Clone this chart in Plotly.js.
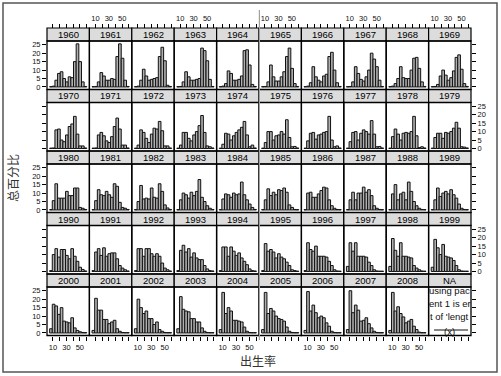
<!DOCTYPE html>
<html><head><meta charset="utf-8">
<script src="https://cdn.plot.ly/plotly-3.0.1.min.js"></script>
<style>html,body{margin:0;padding:0;background:#fff}</style>
</head><body><div id="chart" style="width:501px;height:376px"></div>
<script>
// ---- data ----
const breaks = [5.0, 8.95, 12.9, 16.85, 20.8, 24.75, 28.7, 32.65, 36.6, 40.55, 44.5, 48.45, 52.4, 56.35, 60.3];
const panelLabels = ['1960','1961','1962','1963','1964','1965','1966','1967','1968','1969',
  '1970','1971','1972','1973','1974','1975','1976','1977','1978','1979',
  '1980','1981','1982','1983','1984','1985','1986','1987','1988','1989',
  '1990','1991','1992','1993','1994','1995','1996','1997','1998','1999',
  '2000','2001','2002','2003','2004','2005','2006','2007','2008','NA'];
const y1960 = [0.2, 0.5, 4, 8, 9, 5, 3, 6, 5.5, 15, 25.5, 15, 3, 0.3];
const y1961 = [0.2, 0.3, 3, 8.5, 6.5, 4, 4, 5, 4.5, 18, 25.5, 17, 4, 0.3];
const y1962 = [0.2, 0.5, 4, 10.5, 6.5, 4, 4.5, 5, 5.5, 18, 23.5, 15.5, 1, 0.3];
const y1963 = [0.2, 0.3, 3, 9, 6, 4, 4, 4.5, 5, 23, 21.5, 15.5, 4.5, 0.3];
const y1964 = [0.2, 0.5, 2, 9.5, 8, 4, 4, 4.5, 6.5, 21.5, 22, 13, 1.5, 0.3];
const y1965 = [0.2, 0.3, 3, 13, 6, 3.5, 3.5, 6, 9, 18, 23, 11, 2, 0.3];
const y1966 = [0.2, 0.5, 2.5, 12, 6, 4, 3, 6.5, 7.5, 18, 20.5, 10, 2.5, 0.3];
const y1967 = [0.2, 0.3, 3, 12, 8, 4.5, 3.5, 6, 10, 20, 16.5, 12, 4, 0.3];
const y1968 = [0.2, 0.5, 2, 5, 12, 5.5, 5, 5, 10, 17, 17.5, 11, 3, 0.3];
const y1969 = [0.2, 0.3, 1.5, 6.5, 10, 7, 4, 5.5, 9.5, 17.5, 19, 10.5, 2, 0.3];
const y1970 = [0.2, 0.3, 11, 11.5, 5, 4, 8, 13, 14.5, 19, 8.5, 1.5, 1.5, 0.3];
const y1971 = [0.2, 0.3, 8, 9.5, 7.5, 4.5, 3.5, 7, 13, 18, 11.5, 2, 2, 0.3];
const y1972 = [0.2, 2, 11, 9.5, 6, 3.5, 8.5, 12, 11.5, 16, 10.5, 1.5, 1.5, 0.3];
const y1973 = [0.2, 2, 9.5, 9.5, 6, 4.5, 8, 10, 13.5, 19.5, 9.5, 1.5, 1, 0.3];
const y1974 = [0.2, 2.5, 9, 8.5, 5, 7.5, 9.5, 11, 12.5, 16, 8, 1, 2, 0.3];
const y1975 = [0.2, 3.5, 10, 10, 5, 7.5, 8, 10, 8.5, 17, 6.5, 1, 1.2, 0.3];
const y1976 = [0.2, 4.5, 9, 9.5, 5.5, 8, 8.5, 9.5, 10, 19, 5, 1, 1.5, 0.3];
const y1977 = [0.2, 4, 9.5, 10, 5, 9, 11, 10, 8.5, 16.5, 8.5, 1, 1.2, 0.3];
const y1978 = [0.2, 7, 11.5, 8.5, 5, 9, 9.5, 9, 10, 19, 7.5, 0.5, 1, 0.3];
const y1979 = [0.2, 6.5, 9, 9, 6, 9.5, 9, 10, 12, 15.5, 12, 1, 0.8, 0.3];
const y1980 = [0.2, 5.5, 15.5, 7, 7, 7, 11, 8.5, 8.5, 13, 13, 1.5, 1, 0.3];
const y1981 = [0.2, 5.5, 12, 9, 8.5, 11, 9, 7.5, 15.5, 14, 4.5, 1.5, 1, 0.3];
const y1982 = [0.2, 5, 14.5, 6.5, 7, 6.5, 13, 7.5, 7, 15.5, 11, 3, 1.2, 0.3];
const y1983 = [0.2, 6, 10, 9, 7, 10.5, 8.5, 11, 18, 7.5, 5, 2.5, 1, 0.3];
const y1984 = [0.2, 6.5, 9.5, 9, 7.5, 10, 9, 9.5, 16.5, 9, 6, 3.5, 1.5, 0.3];
const y1985 = [0.2, 6, 12.5, 8.5, 10.5, 9, 12, 11.5, 13, 10.5, 3, 1.5, 0.3, 0.2];
const y1986 = [0.2, 10, 10.5, 7.5, 7.5, 9.5, 11.5, 13.5, 13, 6, 2.5, 1, 0.3, 0.2];
const y1987 = [0.2, 6, 10.5, 6, 10, 10, 13.5, 10.5, 12, 8.5, 2.5, 1, 0.3, 0.2];
const y1988 = [0.2, 9.5, 15, 6, 9.5, 10.5, 6, 16.5, 11, 5, 2.5, 1, 0.3, 0.2];
const y1989 = [0.2, 6, 13, 8, 10, 11, 9.5, 12, 9, 7, 3.5, 1, 0.3, 0.2];
const y1990 = [0.5, 10, 13.5, 8.5, 13, 13, 9.5, 7.5, 13.5, 9, 6, 2.5, 1.2, 0.3];
const y1991 = [0.5, 11.5, 13.5, 9.5, 14, 9, 10.5, 11, 11, 7.5, 3.5, 2, 1, 0.3];
const y1992 = [0.5, 13.5, 13.5, 9, 13.5, 13.5, 10.5, 9, 10.5, 9, 5, 2, 1, 0.3];
const y1993 = [0.5, 12.5, 15.5, 11.5, 13.5, 8.5, 11, 8, 7, 7, 3.5, 1.5, 0.5, 0.3];
const y1994 = [0.5, 14.5, 14.5, 9, 14.5, 12, 9.5, 11, 8, 6, 4, 1.5, 0.5, 0.3];
const y1995 = [0.5, 16.5, 12, 13, 11.5, 8, 10.5, 8.5, 7.5, 5.5, 3.5, 1, 0.5, 0.2];
const y1996 = [0.5, 17, 13, 12, 15, 9, 9, 9, 8.5, 6, 3.5, 1, 0.3, 0.2];
const y1997 = [3, 17, 12, 17, 9, 9, 9, 8.5, 5.5, 3.5, 1, 0.3, 0.2, 0.2];
const y1998 = [3, 19.5, 12.5, 9, 17, 9, 9, 8.5, 8, 3.5, 2, 1, 0.3, 0.2];
const y1999 = [2.5, 19, 14, 10, 16, 9, 8.5, 8, 6.5, 3.5, 1, 0.3, 0.2, 0.2];
const y2000 = [2.5, 17, 16, 11, 15, 7, 6.5, 6, 9, 3, 1.5, 0.7, 0.3, 0.2];
const y2001 = [1.5, 20.5, 13.5, 13.5, 8, 8, 5.5, 6.5, 7.5, 2.5, 1, 0.3, 0.2, 0.2];
const y2002 = [2.5, 20, 15, 11.5, 13, 8.5, 8.5, 5, 6.5, 2, 1, 0.3, 0.2, 0.2];
const y2003 = [2.5, 21.5, 14, 13, 12.5, 8.5, 8.5, 6.5, 6.5, 3, 1, 0.3, 0.2, 0.2];
const y2004 = [2, 24, 11.5, 15, 13, 7.5, 7.5, 7, 6.5, 3.5, 1, 0.3, 0.2, 0.2];
const y2005 = [2, 24, 11.5, 14.5, 13, 10, 8.5, 8, 7, 3.5, 1, 0.3, 0.2, 0.2];
const y2006 = [1.5, 24.5, 13, 16.5, 12, 9, 10, 9, 6, 4, 1, 0.3, 0.2, 0.2];
const y2007 = [2, 25, 12, 16.5, 13.5, 7, 7.5, 9, 5.5, 3, 1, 0.3, 0.2, 0.2];
const y2008 = [1.5, 24, 13, 15.5, 11.5, 9.5, 6, 7, 8, 4, 2, 0.5, 0.2, 0.2];
const percentByPanel = [
  y1960,y1961,y1962,y1963,y1964,y1965,y1966,y1967,y1968,y1969,
  y1970,y1971,y1972,y1973,y1974,y1975,y1976,y1977,y1978,y1979,
  y1980,y1981,y1982,y1983,y1984,y1985,y1986,y1987,y1988,y1989,
  y1990,y1991,y1992,y1993,y1994,y1995,y1996,y1997,y1998,y1999,
  y2000,y2001,y2002,y2003,y2004,y2005,y2006,y2007,y2008,null];
const xTickVals = [10, 20, 30, 40, 50, 60];
const xTickText = ['10', '', '30', '', '50', ''];
const yTickVals = [0, 5, 10, 15, 20, 25];
const yTickText = ['0', '5', '10', '15', '20', '25'];
const naTextLines = ['using pac', 'ent 1 is er', "t of 'lengt", '(x)'];
const yTitle = '总百分比';
const xTitle = '出生率';

// ---- layout geometry (pixels) ----
const W = 501, H = 376;
const colLeft = 47, colW = 42.4, rowTop = 28, rowPitch = 61.5, stripH = 13;
const fx = p => p / W;
const fy = p => 1 - p / H;
const FONT = 'Liberation Sans, Arial, sans-serif';

const centers = [], widths = [];
for (let i = 0; i < breaks.length - 1; i++) {
  centers.push((breaks[i] + breaks[i + 1]) / 2);
  widths.push(breaks[i + 1] - breaks[i]);
}

const data = [];
const layout = {
  width: W, height: H, margin: {l: 0, r: 0, t: 0, b: 0},
  paper_bgcolor: '#fff', plot_bgcolor: 'rgba(0,0,0,0)',
  showlegend: false, bargap: 0,
  font: {family: FONT, color: '#000'},
  shapes: [], annotations: []
};

for (let k = 0; k < panelLabels.length; k++) {
  const r = Math.floor(k / 10), c = k % 10, n = k + 1;
  const sTop = rowTop + r * rowPitch;
  const pTop = sTop + stripH, pBot = sTop + rowPitch;
  const left = colLeft + c * colW, right = left + colW;
  const xa = {
    domain: [fx(left), fx(right)], range: [1.1, 64.2],
    tickvals: xTickVals, ticktext: xTickText,
    showgrid: false, zeroline: false, showline: false,
    ticks: 'outside', ticklen: 4, tickwidth: 1, tickcolor: '#000',
    tickfont: {size: 7.5, family: FONT, color: '#111'}, fixedrange: true
  };
  if (r === 0) {
    Object.assign(xa, {side: 'top', anchor: 'free', position: fy(sTop), showticklabels: c % 2 === 1});
  } else if (r === 4) {
    Object.assign(xa, {side: 'bottom', anchor: 'y' + n, showticklabels: c % 2 === 0});
  } else {
    Object.assign(xa, {visible: false, anchor: 'y' + n});
  }
  const ya = {
    domain: [fy(pBot), fy(pTop)], range: [-1.5, 27.2],
    tickvals: yTickVals, ticktext: yTickText,
    showgrid: false, zeroline: false, showline: false,
    ticks: 'outside', ticklen: 4, tickwidth: 1, tickcolor: '#000',
    tickfont: {size: 7.5, family: FONT, color: '#111'}, fixedrange: true,
    anchor: 'x' + n
  };
  if (c === 0) Object.assign(ya, {side: 'left', showticklabels: r % 2 === 0});
  else if (c === 9) Object.assign(ya, {side: 'right', showticklabels: r % 2 === 1});
  else ya.visible = false;
  layout['xaxis' + (n === 1 ? '' : n)] = xa;
  layout['yaxis' + (n === 1 ? '' : n)] = ya;

  const vals = percentByPanel[k];
  data.push({
    type: 'bar', x: vals ? centers : [], y: vals || [], width: vals ? widths : [],
    xaxis: 'x' + n, yaxis: 'y' + n,
    marker: {color: '#b0b0b0', line: {color: '#111', width: 1}},
    hoverinfo: 'skip', showlegend: false
  });

  layout.shapes.push({type: 'rect', xref: 'paper', yref: 'paper',
    x0: fx(left), x1: fx(right), y0: fy(pTop), y1: fy(sTop),
    fillcolor: '#dcdcdc', line: {color: '#000', width: 1.2}, layer: 'below'});
  layout.shapes.push({type: 'rect', xref: 'paper', yref: 'paper',
    x0: fx(left), x1: fx(right), y0: fy(pBot), y1: fy(pTop),
    line: {color: '#000', width: 1.3}, layer: 'above'});
  layout.annotations.push({xref: 'paper', yref: 'paper',
    x: fx((left + right) / 2), y: fy(sTop + stripH / 2),
    text: panelLabels[k], showarrow: false, xanchor: 'center', yanchor: 'middle',
    font: {size: 9.5, family: FONT, color: '#000'}});
}

const naCx = colLeft + 9 * colW + colW / 2;
const naY = [290, 303, 316, 331];
naTextLines.forEach((t, i) => layout.annotations.push({xref: 'paper', yref: 'paper',
  x: fx(naCx), y: fy(naY[i]), text: t, showarrow: false, xanchor: 'center', yanchor: 'middle',
  font: {size: 9.5, family: FONT, color: '#111'}}));
layout.shapes.push({type: 'line', xref: 'paper', yref: 'paper',
  x0: fx(434), x1: fx(468), y0: fy(330), y1: fy(330), line: {color: '#111', width: 1}});

layout.annotations.push({xref: 'paper', yref: 'paper', x: fx(13), y: fy(178), text: yTitle,
  textangle: -90, showarrow: false, xanchor: 'center', yanchor: 'middle',
  font: {size: 12, family: 'Noto Sans CJK SC', color: '#333'}});
layout.annotations.push({xref: 'paper', yref: 'paper', x: fx(258), y: fy(360), text: xTitle,
  showarrow: false, xanchor: 'center', yanchor: 'middle',
  font: {size: 12, family: 'Noto Sans CJK SC', color: '#333'}});

layout.shapes.push({type: 'rect', xref: 'paper', yref: 'paper',
  x0: fx(3), x1: fx(497), y0: fy(372), y1: fy(3), line: {color: '#555', width: 1.5}});
layout.shapes.push({type: 'line', xref: 'paper', yref: 'paper',
  x0: fx(259.4), x1: fx(259.4), y0: fy(340), y1: fy(10), line: {color: '#a0a0a0', width: 1.2}});

Plotly.newPlot('chart', data, layout, {displayModeBar: false, staticPlot: true});
</script>
</body></html>
